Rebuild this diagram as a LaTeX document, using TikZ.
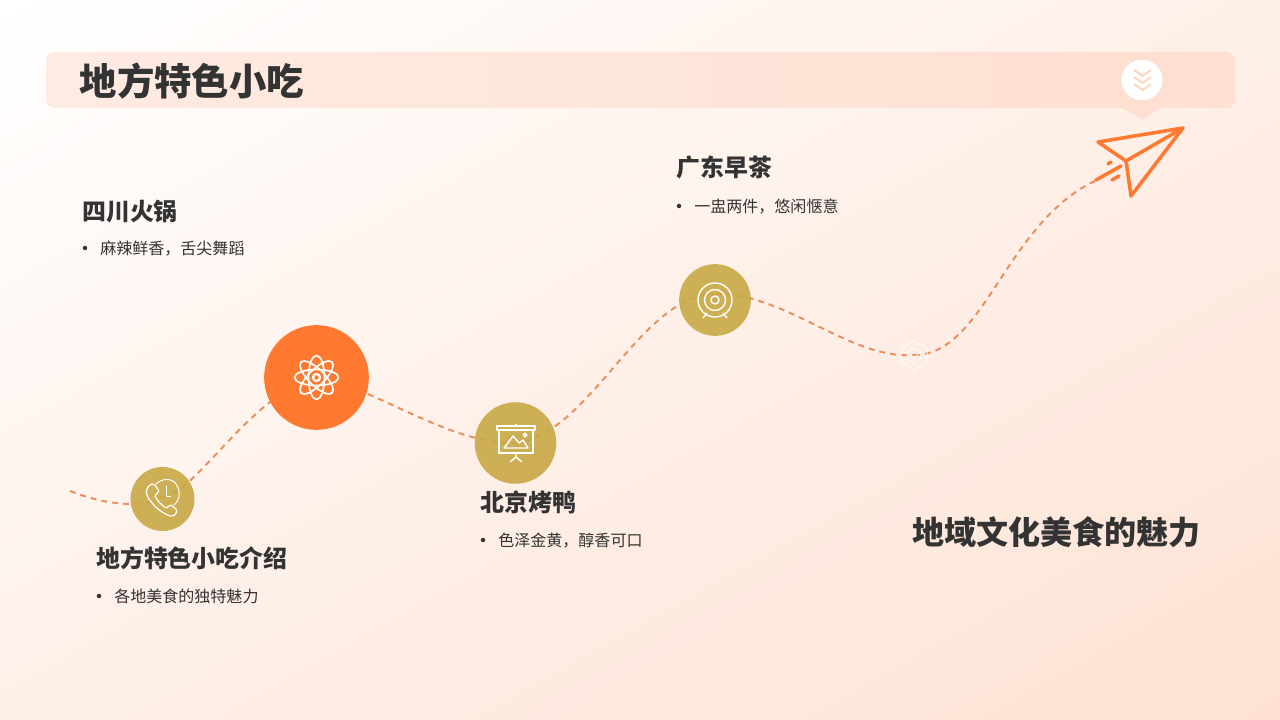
\documentclass[tikz,border=0pt]{standalone}
\usepackage{fontspec}
\setmainfont{Noto Sans CJK SC}
\definecolor{peach}{HTML}{FEE1D2}
\definecolor{barl}{HTML}{FEEBE2}
\definecolor{barr}{HTML}{FEDFD1}
\definecolor{gold}{HTML}{C8A845}
\definecolor{tang}{HTML}{FF7A30}
\definecolor{ink}{HTML}{333333}
\definecolor{trail}{HTML}{E8905F}
\tikzset{every node/.style={draw=none,inner sep=0pt,text=ink}}
\tikzset{head/.style={anchor=west,font=\fontsize{17}{20}\selectfont\bfseries}}
\tikzset{item/.style={anchor=west,font=\fontsize{11.4}{14}\selectfont}}
\tikzset{dot/.style={circle,minimum size=3.2pt,fill=ink}}
\tikzset{trailline/.style={trail,line width=1.4pt,dash pattern=on 4.2pt off 3.6pt}}
\tikzset{icon/.style={white,line width=1pt,line join=round}}
\tikzset{plane/.style={tang,line width=2.5pt,line join=round,line cap=round}}
\begin{document}
\begin{tikzpicture}[x=0.025cm,y=-0.025cm]
      \useasboundingbox (0,0) rectangle (1280,720);
      \begin{scope}
        \clip (0,0) rectangle (1280,720);
        \fill[white] (0,0) rectangle (1280,720);
        \foreach \s in {1,...,60} {
          \pgfmathsetmacro{\tx}{\s*42.667}
          \pgfmathsetmacro{\ty}{\s*24}
          \pgfmathsetmacro{\mixp}{\s*1.666}
          \fill[peach!\mixp!white] (\tx,0) -- (0,\ty) -- (0,1500) -- (2600,1500) -- (2600,0) -- cycle;
        }
      \end{scope}
      \shade[left color=barl,right color=barr,rounded corners=6pt] (46,52) rectangle (1235,108);
      \fill[barr] (1122,108) -- (1160,108) -- (1142,120) -- cycle;
      \node[circle,fill=white,minimum size=29pt] (badge) at (1142,80) {};
      \foreach \y in {70,77,84}
        \draw[barr!85!tang,line width=1.2pt] (1134,\y) -- (1142.5,\y+6) -- (1151,\y);
      \node[anchor=west,font=\fontsize{26.6}{30}\selectfont\bfseries] (title) at (79.5,81.5) {地方特色小吃};
      \coordinate (begin) at (70,491);
      \coordinate (phonec) at (162,497);
      \coordinate (atomc) at (316,377);
      \coordinate (boardc) at (515,443);
      \coordinate (targetc) at (715,294);
      \coordinate (hexc) at (914,355);
      \coordinate (tail) at (1097,180);
      \draw[trailline] (begin) .. controls (100,503) and (140,510) .. (phonec);
      \draw[trailline] (phonec) .. controls (195,495) and (250,395) .. (atomc);
      \draw[trailline] (atomc) .. controls (370,385) and (450,445) .. (boardc);
      \draw[trailline] (boardc) .. controls (590,435) and (640,295) .. (targetc);
      \draw[trailline] (targetc) .. controls (785,292) and (850,360) .. (hexc);
      \draw[trailline] (hexc) .. controls (985,355) and (1005,222) .. (tail);
      \node[circle,fill=gold,fill opacity=0.9,minimum size=45.5pt] (phone) at (162.5,499) {};
      \node[circle,fill=tang,minimum size=74.5pt] (atom) at (316.5,377.5) {};
      \node[circle,fill=gold,fill opacity=0.9,minimum size=58pt] (board) at (515.5,443) {};
      \node[circle,fill=gold,fill opacity=0.9,minimum size=51pt] (target) at (715,300) {};
      \draw[white,opacity=0.7,line width=0.8pt] (914,341) -- (927,348) -- (927,362) -- (914,370) -- (901,362) -- (901,348) -- cycle;
      \draw[white,opacity=0.7,line width=0.6pt] (906,352) -- (914,348) -- (922,352) -- (914,357) -- cycle (906,358) -- (914,363) -- (922,358);
      \draw[icon,line width=0.85pt] (152,484) .. controls (145,487) and (145,494) .. (149,499) .. controls (154,506) and (160,512) .. (170,516)
        .. controls (175,517) and (178,512) .. (176,509) -- (171,505) -- (166,508) .. controls (161,505) and (157,500) .. (155,496) -- (159,491) -- (155,485) -- cycle;
      \draw[icon,line width=0.7pt] (156,484) .. controls (162,478) and (172,478) .. (176,484) .. controls (181,491) and (180,500) .. (174,505);
      \draw[icon,line width=0.7pt] (166,486) -- (166,496) -- (171,496);
      \foreach \a in {0,45,90,135}
        \draw[icon,line width=1.2pt,rotate around={\a:(316.5,377.5)}] (316.5,377.5) ellipse (22 and 8);
      \fill[tang] (316.5,377.5) circle (6);
      \draw[icon,line width=1.6pt] (316.5,377.5) circle (3.5);
      \draw[icon] (497,426) rectangle (535,430);
      \draw[icon] (499,430) rectangle (533,453);
      \draw[icon] (516,426) -- (516,424);
      \draw[icon] (504,448) -- (513,436) -- (519,443) -- (523,440) -- (528,448) -- cycle;
      \draw[icon] (525,435) circle (1.8);
      \draw[icon] (516,453) -- (516,457) (510,462) -- (516,457) -- (522,462);
      \draw[icon] (715,300) circle (17);
      \draw[icon] (715,300) circle (10.5);
      \draw[icon] (715,300) circle (4);
      \draw[icon] (707,313) -- (703,318) (723,313) -- (727,318);
      \draw[plane] (1183,128) -- (1098,142) -- (1126,161) -- cycle;
      \draw[plane] (1126,161) -- (1131,196) -- (1183,128);
      \draw[plane] (1096,180) -- (1121,166);
      \draw[plane] (1112,180) -- (1119,176);
      \draw[plane] (1108,164) -- (1111,162);
      \node[head] (sichuan) at (82,212) {四川火锅};
      \node[dot] (sichuand) at (85,248) {};
      \node[item] (sichuant) at (100,249) {麻辣鲜香，舌尖舞蹈};
      \node[head] (canton) at (676,167.5) {广东早茶};
      \node[dot] (cantond) at (679,206) {};
      \node[item] (cantont) at (694,207) {一盅两件，悠闲惬意};
      \node[head] (beijing) at (480,502.5) {北京烤鸭};
      \node[dot] (beijingd) at (483,540) {};
      \node[item] (beijingt) at (498,541) {色泽金黄，醇香可口};
      \node[head] (intro) at (96,558.5) {地方特色小吃介绍};
      \node[dot] (introd) at (99,596) {};
      \node[item] (introt) at (114,596) {各地美食的独特魅力};
      \node[anchor=west,font=\fontsize{22.8}{26}\selectfont\bfseries] (charm) at (912,532) {地域文化美食的魅力};
\end{tikzpicture}
\end{document}
